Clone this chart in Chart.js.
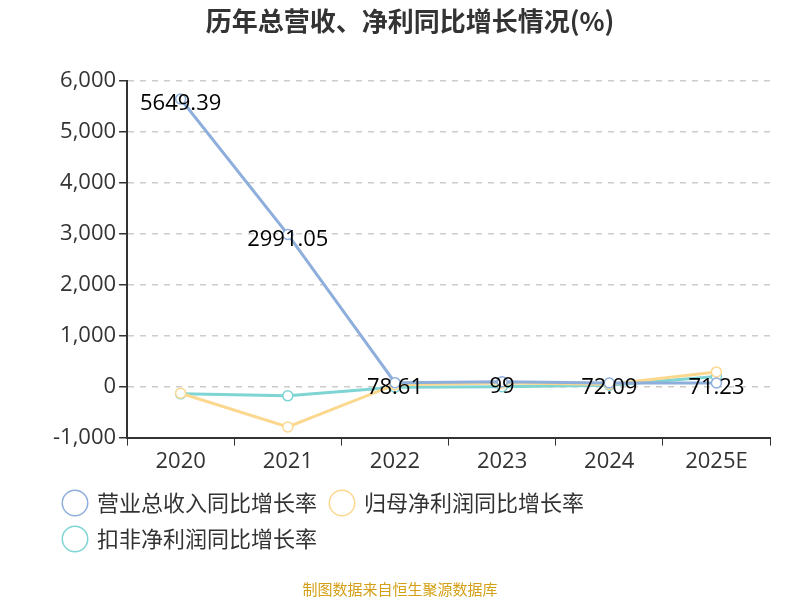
<!DOCTYPE html>
<html>
<head>
<meta charset="utf-8">
<script src="https://cdn.jsdelivr.net/npm/chart.js@4"></script>
<style>
body { margin: 0; background: #fff; }
#wrap { width: 800px; height: 600px; position: relative; }
#src { position: absolute; left: 0; width: 800px; top: 578px; text-align: center; font: 15px "Noto Sans CJK SC"; color: #d4a017; }
</style>
</head>
<body>
<div id="wrap">
<canvas id="c" width="800" height="600"></canvas>
<div id="src">制图数据来自恒生聚源数据库</div>
</div>
<script>
// 数据
const years = ["2020", "2021", "2022", "2023", "2024", "2025E"]
const revenueGrowth = [5649.39, 2991.05, 78.61, 99, 72.09, 71.23]
const netProfitGrowth = [-130, -790, 40, 70, 50, 290]
const deductedGrowth = [-140, -180, -10, 0, 30, 200]

const labelPlugin = {
    id: "labels",
    afterDatasetsDraw(chart) {
        const ctx = chart.ctx
        const meta = chart.getDatasetMeta(0)
        ctx.save()
        ctx.font = "22px 'Open Sans'"
        ctx.fillStyle = "#000"
        ctx.textAlign = "center"
        ctx.textBaseline = "bottom"
        meta.data.forEach((p, i) => {
            ctx.fillText(String(revenueGrowth[i]), p.x, p.y + 16)
        })
        ctx.restore()
    }
}

new Chart(document.getElementById("c"), {
    type: "line",
    data: {
        labels: years,
        datasets: [
            { label: "营业总收入同比增长率", data: revenueGrowth, borderColor: "#8eaedb", backgroundColor: "#fff", borderWidth: 3, pointRadius: 5, pointBorderWidth: 1.5, tension: 0 },
            { label: "归母净利润同比增长率", data: netProfitGrowth, borderColor: "#fcd88f", backgroundColor: "#fff", borderWidth: 3, pointRadius: 5, pointBorderWidth: 1.5, tension: 0 },
            { label: "扣非净利润同比增长率", data: deductedGrowth, borderColor: "#7fd4d4", backgroundColor: "#fff", borderWidth: 3, pointRadius: 5, pointBorderWidth: 1.5, tension: 0 }
        ]
    },
    options: {
        responsive: false,
        animation: false,
        layout: { padding: { left: 50, right: 30, bottom: 40 } },
        plugins: {
            title: { display: true, text: "历年总营收、净利同比增长情况(%)", font: { size: 26, weight: "bold", family: "Noto Sans CJK SC" }, color: "#333", padding: { top: 6, bottom: 44 } },
            legend: {
                position: "bottom", align: "start",
                labels: { usePointStyle: true, pointStyle: "circle", boxWidth: 60, boxHeight: 18, font: { size: 22, family: "Noto Sans CJK SC" }, color: "#333", padding: 14 }
            },
            tooltip: { enabled: false }
        },
        scales: {
            x: {
                offset: true,
                grid: { display: true, drawOnChartArea: false, offset: true, tickLength: 8, tickColor: "#333" },
                border: { color: "#333", width: 2 },
                ticks: { font: { size: 22, family: "Open Sans" }, color: "#333" }
            },
            y: {
                min: -1000, max: 6000,
                grid: { color: "#ccc", lineWidth: 1.5, tickColor: "#333", tickLength: 8, drawTicks: true },
                border: { color: "#333", width: 2, dash: [6, 6] },
                ticks: { stepSize: 1000, font: { size: 22, family: "Open Sans" }, color: "#333" }
            }
        }
    },
    plugins: [labelPlugin]
})
</script>
</body>
</html>
